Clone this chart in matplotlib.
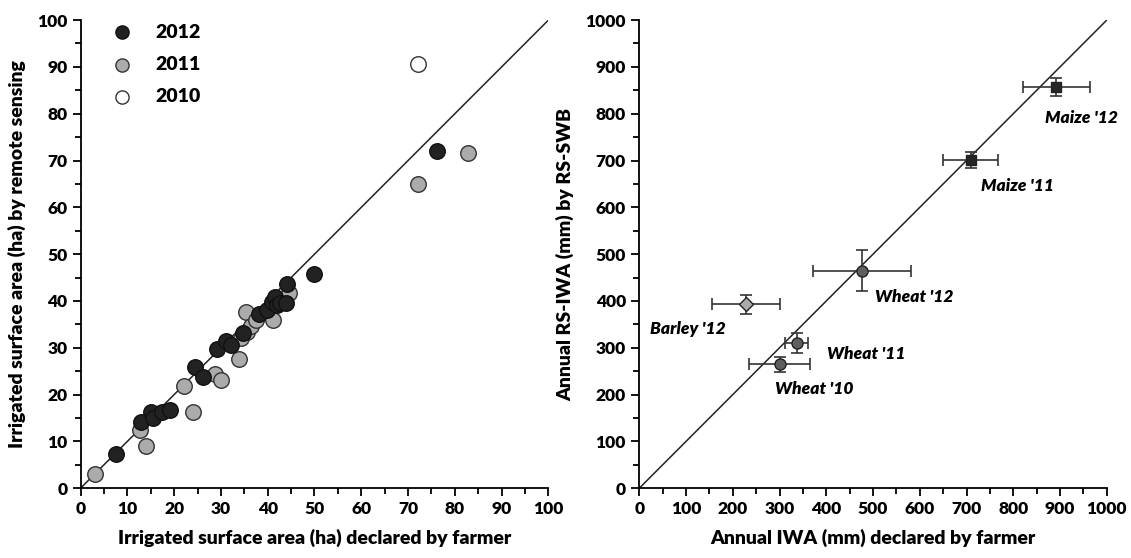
import matplotlib.pyplot as plt
import numpy as np

plt.rcParams['font.family'] = ['Lato', 'DejaVu Sans']
plt.rcParams['font.weight'] = 'heavy'

# left panel: declared vs remote sensing area (ha)
x2012 = [7.5, 13.0, 15.1, 15.5, 17.4, 19.1, 24.4, 26.1, 29.1, 31.0, 32.1, 34.7, 38.1, 39.9,
         41.0, 41.5, 42.0, 42.6, 43.9, 44.2, 49.9, 76.1]
y2012 = [7.3, 14.2, 16.2, 15.1, 16.3, 16.8, 25.8, 23.8, 29.8, 31.4, 30.7, 33.2, 37.3, 38.0,
         39.8, 40.9, 39.2, 39.5, 39.5, 43.6, 45.7, 72.0]
x2011 = [3.2, 13.9, 12.7, 24.1, 22.1, 28.8, 30.1, 33.8, 34.2, 35.6, 35.4, 36.5, 37.5, 41.1,
         42.3, 44.5, 72.2, 82.8]
y2011 = [3.0, 9.0, 12.4, 16.3, 21.9, 24.5, 23.2, 27.7, 32.0, 33.4, 37.7, 34.6, 36.0, 36.0,
         39.6, 41.8, 65.0, 71.6]
x2010 = [72.2]
y2010 = [90.7]

# right panel: annual IWA (mm)
crops = ["Maize '12", "Maize '11", "Wheat '12", "Barley '12", "Wheat '11", "Wheat '10"]
iwa_farmer = [892, 709, 477, 228, 337, 300]
iwa_rs = [857, 702, 465, 393, 310, 265]
err_farmer = [72, 59, 105, 73, 25, 65]
err_rs = [19, 17, 43, 20, 21, 16]
markers = ['s', 's', 'o', 'D', 'o', 'o']
colors = ['#262626', '#262626', '#5e5e5e', '#ababab', '#5e5e5e', '#5e5e5e']
label_pos = [(867, 791), (730, 645), (504, 409), (23, 340), (401, 286), (291, 213)]

fig = plt.figure(figsize=(11.31, 5.58), dpi=100)
ax1 = fig.add_axes([0.0712, 0.125, 0.4137, 0.839])
ax2 = fig.add_axes([0.5652, 0.125, 0.4134, 0.839])

ax1.plot([0, 100], [0, 100], color='#222222', lw=1.1, zorder=1)
ax1.scatter(x2012, y2012, s=125, color='#222222', edgecolor='#111111', lw=1, label='2012', zorder=3)
ax1.scatter(x2011, y2011, s=125, color='#ababab', edgecolor='#333333', lw=1, label='2011', zorder=2)
ax1.scatter(x2010, y2010, s=125, color='white', edgecolor='#333333', lw=1, label='2010', zorder=2)
ax1.legend(loc='upper left', frameon=False, fontsize=14, bbox_to_anchor=(0.01, 1.03),
           handletextpad=0.7, labelspacing=0.78, markerscale=0.85)
ax1.set_xlim(0, 100)
ax1.set_ylim(0, 100)
ax1.set_xticks(np.arange(0, 101, 10))
ax1.set_yticks(np.arange(0, 101, 10))
ax1.set_xticks(np.arange(5, 100, 10), minor=True)
ax1.set_yticks(np.arange(5, 100, 10), minor=True)
ax1.set_xlabel('Irrigated surface area (ha) declared by farmer', fontsize=14, fontweight='heavy', labelpad=8)
ax1.set_ylabel('Irrigated surface area (ha) by remote sensing', fontsize=14, fontweight='heavy', labelpad=8)

ax2.plot([0, 1000], [0, 1000], color='#222222', lw=1.1, zorder=1)
for i in range(len(crops)):
    ax2.errorbar(iwa_farmer[i], iwa_rs[i], xerr=err_farmer[i], yerr=err_rs[i], fmt=markers[i],
                 color=colors[i], mec='#222222', ms=8 if markers[i] == 'o' else 7.5,
                 ecolor='#333333', elinewidth=1.2, capsize=4, capthick=1.2, zorder=3)
    ax2.text(label_pos[i][0], label_pos[i][1], crops[i], fontsize=12.5, fontweight='heavy',
             style='italic', va='center', ha='left')
ax2.set_xlim(0, 1000)
ax2.set_ylim(0, 1000)
ax2.set_xticks(np.arange(0, 1001, 100))
ax2.set_yticks(np.arange(0, 1001, 100))
ax2.set_xticks(np.arange(50, 1000, 100), minor=True)
ax2.set_yticks(np.arange(50, 1000, 100), minor=True)
ax2.set_xlabel('Annual IWA (mm) declared by farmer', fontsize=14, fontweight='heavy', labelpad=8)
ax2.set_ylabel('Annual RS-IWA (mm) by RS-SWB', fontsize=14, fontweight='heavy', labelpad=8)

for ax in (ax1, ax2):
    ax.spines['top'].set_visible(False)
    ax.spines['right'].set_visible(False)
    ax.spines['left'].set_linewidth(1.3)
    ax.spines['bottom'].set_linewidth(1.3)
    ax.tick_params(which='major', direction='out', length=6, width=1.3, labelsize=12.5)
    ax.tick_params(which='minor', direction='out', length=4, width=1.3)
    for t in ax.get_xticklabels() + ax.get_yticklabels():
        t.set_fontweight('heavy')

plt.savefig('out.png', dpi=100)
